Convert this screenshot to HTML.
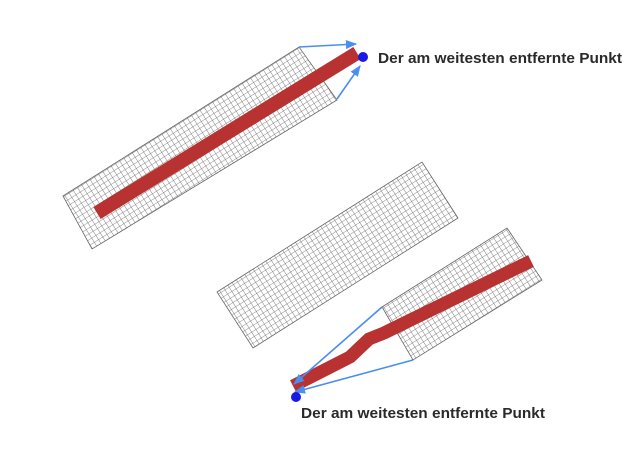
<!DOCTYPE html>
<html><head><meta charset="utf-8"><style>
html,body{margin:0;padding:0;background:#fff;}
svg{display:block;}
text{font-family:"Liberation Sans",Arial,sans-serif;font-size:14.5px;font-weight:bold;fill:#2a2a2a;}
</style></head><body>
<svg width="640" height="458" viewBox="0 0 640 458">
<defs>
<pattern id="grid" width="5" height="5" patternUnits="userSpaceOnUse" patternTransform="rotate(-32.3)">
<rect width="5" height="5" fill="#fff"/>
<path d="M0 0H5M0 0V5" stroke="#6a6a6a" stroke-width="0.85" fill="none"/>
</pattern>
<marker id="arr" viewBox="0 0 10 10" refX="9" refY="5" markerWidth="7" markerHeight="7" orient="auto">
<path d="M0 1L10 5L0 9z" fill="#4a8ef0"/>
</marker>
</defs>
<g>
<polygon points="63,196 299,47 337,100 92,249" fill="url(#grid)" stroke="#666" stroke-width="0.8"/>
<line x1="97" y1="213" x2="357" y2="53" stroke="#b83232" stroke-width="14"/>
<line x1="299" y1="47" x2="356" y2="44" stroke="#4a8ef0" stroke-width="1.6" marker-end="url(#arr)"/>
<line x1="337" y1="99" x2="360" y2="66" stroke="#4a8ef0" stroke-width="1.6" marker-end="url(#arr)"/>
<circle cx="363" cy="57" r="5" fill="#1a1ae6"/>
<text x="378" y="63" textLength="244" lengthAdjust="spacingAndGlyphs">Der am weitesten entfernte Punkt</text>
</g>
<g>
<polygon points="217,292 422,162 458,218 253,348" fill="url(#grid)" stroke="#666" stroke-width="0.8"/>
<polygon points="382,307 507,228 542,280 413,360" fill="url(#grid)" stroke="#666" stroke-width="0.8"/>
<polyline points="293,386 350,357 369,339 384,333 531,261" fill="none" stroke="#b83232" stroke-width="13" stroke-linejoin="round"/>
<line x1="382" y1="307" x2="294" y2="384" stroke="#4a8ef0" stroke-width="1.6" marker-end="url(#arr)"/>
<line x1="413" y1="360" x2="295" y2="392" stroke="#4a8ef0" stroke-width="1.6" marker-end="url(#arr)"/>
<circle cx="296" cy="397" r="5" fill="#1a1ae6"/>
<text x="301" y="418" textLength="244" lengthAdjust="spacingAndGlyphs">Der am weitesten entfernte Punkt</text>
</g>
</svg>
</body></html>
